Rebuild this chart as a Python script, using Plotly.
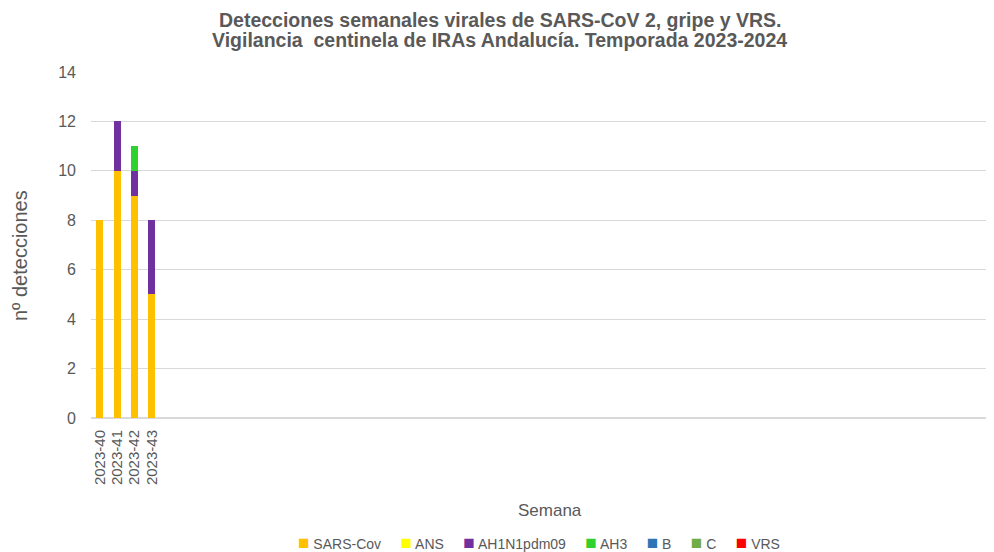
import plotly.graph_objects as go

weeks = ["2023-40", "2023-41", "2023-42", "2023-43"]
n_weeks_season = 52
sars_cov = [8, 10, 9, 5]
ans = [0, 0, 0, 0]
ah1n1pdm09 = [0, 2, 1, 3]
ah3 = [0, 0, 1, 0]
b = [0, 0, 0, 0]
c = [0, 0, 0, 0]
vrs = [0, 0, 0, 0]

series = [
    ("SARS-Cov", sars_cov, "#FFC000"),
    ("ANS", ans, "#FFFF00"),
    ("AH1N1pdm09", ah1n1pdm09, "#7030A0"),
    ("AH3", ah3, "#2ED12E"),
    ("B", b, "#2E75B6"),
    ("C", c, "#70AD47"),
    ("VRS", vrs, "#FF0000"),
]

FONT = "Liberation Sans, Arial, sans-serif"
grey = "#595959"

# page layout (page pixels); the html body adds an 8px offset
BODY = 8
PAGE_W, PAGE_H = 994, 552
PLOT_L, PLOT_R, PLOT_T, PLOT_B = 91, 994, 72, 418

def px(x):
    return (x - PLOT_L) / (PLOT_R - PLOT_L)

def py(y):
    return (PLOT_B - y) / (PLOT_B - PLOT_T)

xpos = list(range(len(weeks)))
fig = go.Figure()
for name, vals, col in series:
    fig.add_trace(go.Bar(x=xpos, y=vals, name=name, marker=dict(color=col, line=dict(width=0)),
                         width=0.4, showlegend=False))

legend_html = "&nbsp;&nbsp;&nbsp;&nbsp;&nbsp;".join(
    f"<span style='color:{col};font-size:19px'>■</span> {name}" for name, _, col in series
)

annotations = [
    dict(text="<b>Detecciones semanales virales de SARS-CoV 2, gripe y VRS.</b>",
         xref="paper", yref="paper", x=px(500), y=py(20), xanchor="center", yanchor="middle",
         showarrow=False, borderpad=0, font=dict(size=19.5, color=grey, family=FONT)),
    dict(text="<b>Vigilancia  centinela de IRAs Andalucía. Temporada 2023-2024</b>",
         xref="paper", yref="paper", x=px(499), y=py(40), xanchor="center", yanchor="middle",
         showarrow=False, borderpad=0, font=dict(size=19.5, color=grey, family=FONT)),
    dict(text="nº detecciones", textangle=-90,
         xref="paper", yref="paper", x=px(20), y=py(256), xanchor="center", yanchor="middle",
         showarrow=False, font=dict(size=20, color=grey, family=FONT)),
    dict(text="Semana",
         xref="paper", yref="paper", x=px(550), y=py(510), xanchor="center", yanchor="middle",
         showarrow=False, font=dict(size=17, color=grey, family=FONT)),
    dict(text=legend_html, xref="paper", yref="paper", x=px(539), y=py(542),
         xanchor="center", yanchor="middle", showarrow=False,
         font=dict(size=14, color=grey, family=FONT)),
]

fig.update_layout(
    barmode="stack",
    width=PAGE_W - BODY, height=PAGE_H - BODY,
    margin=dict(l=PLOT_L - BODY, r=0, t=PLOT_T - BODY, b=PAGE_H - PLOT_B),
    paper_bgcolor="white", plot_bgcolor="white",
    font=dict(family=FONT, color=grey),
    xaxis=dict(
        range=[-0.5, n_weeks_season - 0.5], automargin=False,
        tickmode="array", tickvals=xpos, ticktext=weeks,
        tickangle=-90, tickfont=dict(size=15, color=grey),
        showgrid=False, zeroline=False, showline=False, ticks="",
        ticklabelstandoff=8,
    ),
    yaxis=dict(
        range=[0, 14], dtick=2, automargin=False,
        tickfont=dict(size=16, color=grey),
        gridcolor="#D9D9D9", gridwidth=1, zeroline=True, zerolinecolor="#D9D9D9",
        showline=False, ticks="", ticklabelstandoff=14,
    ),
    annotations=annotations,
    showlegend=False,
)

fig.write_html("out.html")
